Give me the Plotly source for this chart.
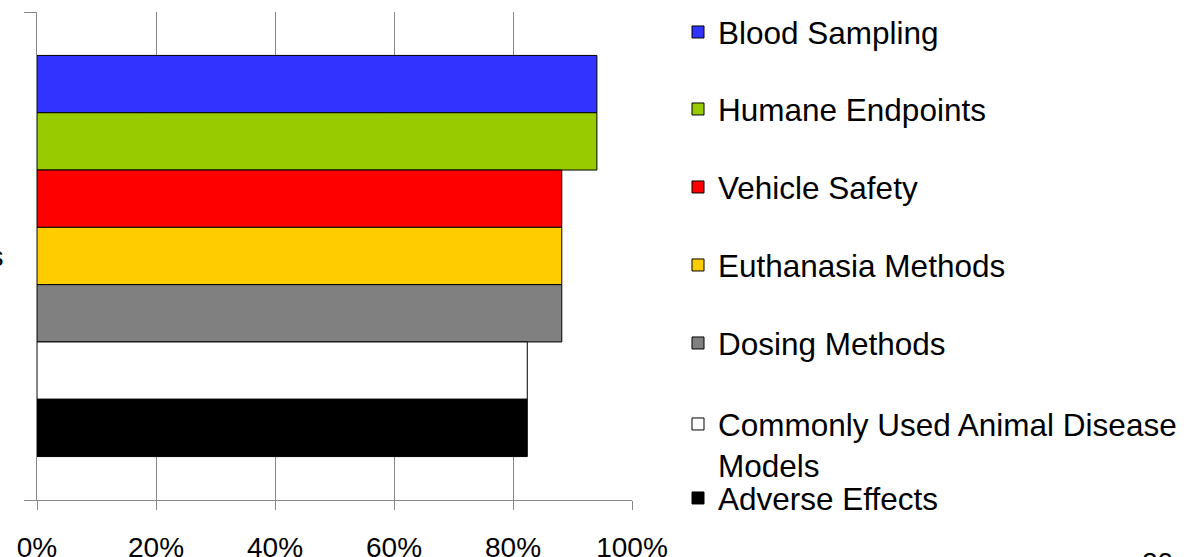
import plotly.graph_objects as go

# ---- data ----
category = ["Topics"]
series_names = [
    "Blood Sampling",
    "Humane Endpoints",
    "Vehicle Safety",
    "Euthanasia Methods",
    "Dosing Methods",
    "Commonly Used Animal Disease<br>Models",
    "Adverse Effects",
]
series_values = [0.941, 0.941, 0.882, 0.882, 0.882, 0.824, 0.824]
series_colors = ["#3333FF", "#99CC00", "#FF0000", "#FFCC00", "#808080", "#FFFFFF", "#000000"]
x_tick_vals = [0, 0.2, 0.4, 0.6, 0.8, 1.0]
x_tick_text = ["0%", "20%", "40%", "60%", "80%", "100%"]

FONT = "Liberation Sans, Arial, sans-serif"
W, H = 1196, 557
L, R, T, B = 37, 632, 12, 500  # plot area in pixels

def px_to_paper_x(px):
    return (px - L) / (R - L)

def px_to_paper_y(py):
    return (B - py) / (B - T)

fig = go.Figure()
legend_tops = [5, 82, 160, 238, 316, 397, 471]
for i, (name, val, col) in enumerate(zip(series_names, series_values, series_colors)):
    lg = "legend" if i == 0 else f"legend{i+1}"
    fig.add_trace(go.Bar(
        y=category, x=[val], name=name, orientation="h",
        marker=dict(color=col, line=dict(color="#000000", width=1)),
        legend=lg, showlegend=True, hoverinfo="x+name",
    ))

layout_legends = {}
for i, top in enumerate(legend_tops):
    key = "legend" if i == 0 else f"legend{i+1}"
    layout_legends[key] = dict(
        x=px_to_paper_x(678), y=px_to_paper_y(top), xanchor="left", yanchor="top",
        font=dict(family=FONT, size=31.5, color="#000000"),
        bgcolor="rgba(0,0,0,0)", borderwidth=0, valign="top",
        itemwidth=30,
    )

fig.update_layout(
    width=W, height=H,
    margin=dict(l=L, r=W - R, t=T, b=H - B, pad=0, autoexpand=False),
    paper_bgcolor="#FFFFFF", plot_bgcolor="#FFFFFF",
    barmode="group", bargap=0.178, bargroupgap=0,
    font=dict(family=FONT, color="#000000"),
    **layout_legends,
    xaxis=dict(
        range=[0, 1], tickvals=x_tick_vals, ticktext=x_tick_text,
        showline=True, linecolor="#888888", linewidth=1,
        showgrid=True, gridcolor="#888888", gridwidth=1, zeroline=False,
        ticks="outside", ticklen=9, tickcolor="#888888", tickwidth=1,
        tickfont=dict(family=FONT, size=28, color="#000000"),
        ticklabelstandoff=13, automargin=False,
        fixedrange=True,
    ),
    yaxis=dict(
        type="category", autorange="reversed",
        showline=True, linecolor="#888888", linewidth=1,
        showgrid=False, ticks="outside", tickson="boundaries",
        ticklen=12, tickcolor="#888888", tickwidth=1,
        tickfont=dict(family=FONT, size=28, color="#000000"),
        ticklabelstandoff=27, automargin=False,
        fixedrange=True,
    ),
    annotations=[dict(
        text="20", x=px_to_paper_x(1157), y=px_to_paper_y(545),
        xref="paper", yref="paper", xanchor="center", yanchor="top",
        showarrow=False, font=dict(family=FONT, size=28, color="#000000"),
    )],
)

fig.write_html("out.html", config={"displayModeBar": False},
               post_script="document.body.style.margin='0';")
